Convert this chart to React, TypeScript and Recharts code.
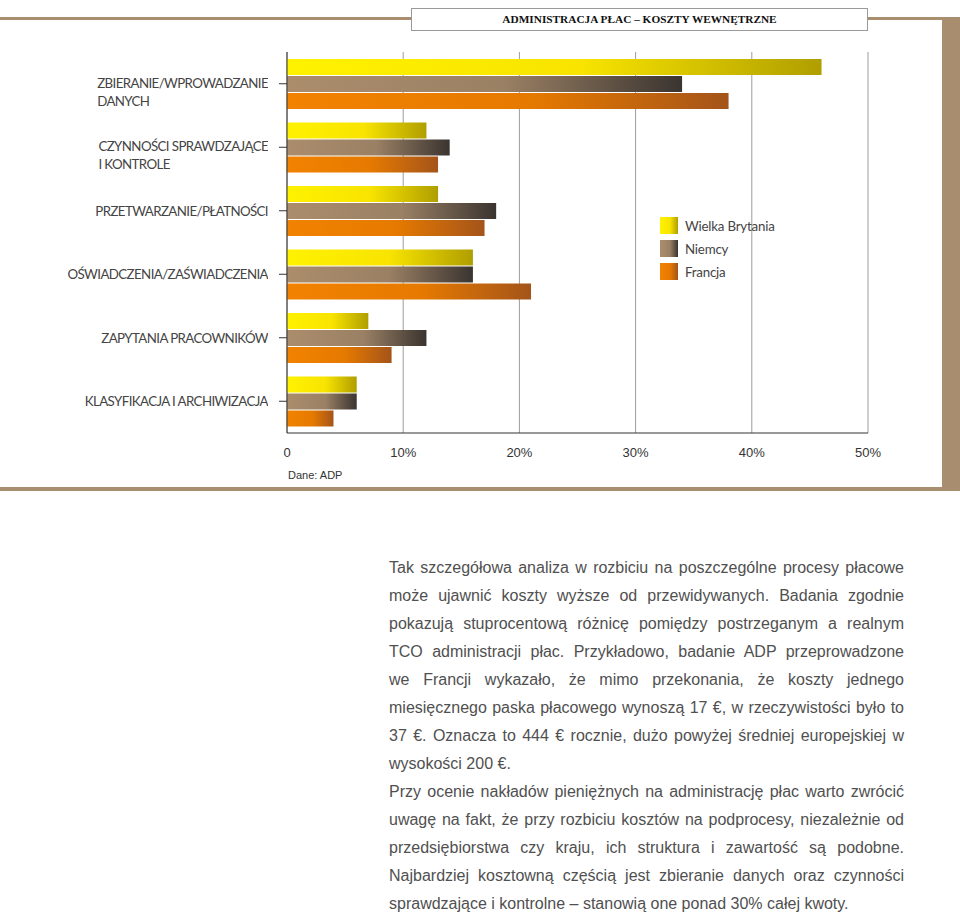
import { BarChart, Bar, XAxis, YAxis, CartesianGrid, Legend } from "recharts";

const categories = [
  "ZBIERANIE/WPROWADZANIE\nDANYCH",
  "CZYNNOŚCI SPRAWDZAJĄCE\nI KONTROLE",
  "PRZETWARZANIE/PŁATNOŚCI",
  "OŚWIADCZENIA/ZAŚWIADCZENIA",
  "ZAPYTANIA PRACOWNIKÓW",
  "KLASYFIKACJA I ARCHIWIZACJA",
];
const wielkaBrytania = [46, 12, 13, 16, 7, 6];
const niemcy = [34, 14, 18, 16, 12, 6];
const francja = [38, 13, 17, 21, 9, 4];
const xTicks = [0, 10, 20, 30, 40, 50];

const series = [
  { key: "uk", name: "Wielka Brytania", stops: ["#fff200", "#f8e400", "#b09e00"] },
  { key: "de", name: "Niemcy", stops: ["#ab8d6c", "#9a8064", "#3a3430"] },
  { key: "fr", name: "Francja", stops: ["#f28200", "#e67a00", "#a4541a"] },
];

const paragraphLines: { text: string; last?: boolean }[] = [
  { text: "Tak szczegółowa analiza w rozbiciu na poszczególne procesy płacowe" },
  { text: "może ujawnić koszty wyższe od przewidywanych. Badania zgodnie" },
  { text: "pokazują stuprocentową różnicę pomiędzy postrzeganym a realnym" },
  { text: "TCO administracji płac. Przykładowo, badanie ADP przeprowadzone" },
  { text: "we Francji wykazało, że mimo przekonania, że koszty jednego" },
  { text: "miesięcznego paska płacowego wynoszą 17 €, w rzeczywistości było to" },
  { text: "37 €. Oznacza to 444 € rocznie, dużo powyżej średniej europejskiej w" },
  { text: "wysokości 200 €.", last: true },
  { text: "Przy ocenie nakładów pieniężnych na administrację płac warto zwrócić" },
  { text: "uwagę na fakt, że przy rozbiciu kosztów na podprocesy, niezależnie od" },
  { text: "przedsiębiorstwa czy kraju, ich struktura i zawartość są podobne." },
  { text: "Najbardziej kosztowną częścią jest zbieranie danych oraz czynności" },
  { text: "sprawdzające i kontrolne – stanowią one ponad 30% całej kwoty.", last: true },
];

const data = categories.map((name, i) => ({
  name,
  uk: wielkaBrytania[i],
  de: niemcy[i],
  fr: francja[i],
}));

const BROWN = "#a88e6f";

function CategoryTick({ x, y, payload }: any) {
  const lines = String(payload.value).split("\n");
  const h = lines.length * 18;
  return (
    <foreignObject x={x - 268} y={lines.length > 1 ? y - 10 : y - 9} width={268} height={h}>
      <div style={{ display: "flex", justifyContent: "flex-end" }}>
        <div
          style={{
            textAlign: "left",
            fontFamily: "Lato",
            fontSize: 13.3,
            letterSpacing: -0.6,
            lineHeight: "18px",
            color: "#444",
            whiteSpace: "nowrap",
          }}
        >
          {lines.map((l) => (
            <div key={l}>{l}</div>
          ))}
        </div>
      </div>
    </foreignObject>
  );
}

function LegendBox() {
  return (
    <div>
      {series.map((s) => (
        <div key={s.key} style={{ display: "flex", alignItems: "center", height: 23 }}>
          <div
            style={{
              width: 18,
              height: 17,
              background: `linear-gradient(to right, ${s.stops[0]}, ${s.stops[1]} 55%, ${s.stops[2]})`,
              marginRight: 7,
            }}
          />
          <span style={{ fontFamily: "Lato", fontSize: 13.3, letterSpacing: -0.2, color: "#444" }}>{s.name}</span>
        </div>
      ))}
    </div>
  );
}

export default function App() {
  return (
    <div
      style={{
        position: "absolute",
        left: 0,
        top: 0,
        width: 960,
        height: 914,
        background: "#fff",
        overflow: "hidden",
      }}
    >
      <div style={{ position: "absolute", left: 0, top: 17, width: 944, height: 3, background: BROWN }} />
      <div style={{ position: "absolute", left: 942, top: 17, width: 18, height: 474, background: BROWN }} />
      <div style={{ position: "absolute", left: 0, top: 487, width: 944, height: 4, background: BROWN }} />
      <div
        style={{
          position: "absolute",
          left: 411,
          top: 8,
          width: 455,
          height: 21,
          border: "1px solid #9a9a9a",
          background: "#fff",
          textAlign: "center",
          lineHeight: "21px",
          fontFamily: "Liberation Serif",
          fontWeight: "bold",
          fontSize: 11.3,
          color: "#111",
        }}
      >
        ADMINISTRACJA PŁAC – KOSZTY WEWNĘTRZNE
      </div>

      <div style={{ position: "absolute", left: 0, top: 0 }}>
        <BarChart
          width={942}
          height={470}
          data={data}
          layout="vertical"
          margin={{ top: 52, right: 74, left: 0, bottom: 0 }}
          barSize={16}
          barGap={1}
        >
          <defs>
            {series.map((s) => (
              <linearGradient key={s.key} id={`g-${s.key}`} x1="0" y1="0" x2="1" y2="0">
                <stop offset="0%" stopColor={s.stops[0]} />
                <stop offset="55%" stopColor={s.stops[1]} />
                <stop offset="100%" stopColor={s.stops[2]} />
              </linearGradient>
            ))}
          </defs>
          <CartesianGrid horizontal={false} stroke="#9c9c9c" />
          <XAxis
            type="number"
            domain={[0, 50]}
            ticks={xTicks}
            height={37}
            tickLine={false}
            tickMargin={9}
            axisLine={{ stroke: "#333" }}
            tickFormatter={(v: number) => (v === 0 ? "0" : `${v}%`)}
            tick={{ fontSize: 13, fontFamily: "Liberation Sans", fill: "#333" }}
          />
          <YAxis
            type="category"
            dataKey="name"
            width={287}
            tickSize={8}
            tickMargin={11}
            axisLine={{ stroke: "#333" }}
            tickLine={{ stroke: "#333" }}
            tick={<CategoryTick />}
            interval={0}
          />
          <Legend
            layout="vertical"
            align="center"
            verticalAlign="middle"
            wrapperStyle={{ left: 660, top: 214, width: 200 }}
            content={() => <LegendBox />}
          />
          {series.map((s) => (
            <Bar key={s.key} dataKey={s.key} name={s.name} fill={`url(#g-${s.key})`} isAnimationActive={false} />
          ))}
        </BarChart>
      </div>

      <div
        style={{
          position: "absolute",
          left: 288,
          top: 469,
          fontFamily: "Liberation Sans",
          fontSize: 11,
          color: "#333",
        }}
      >
        Dane: ADP
      </div>

      <div
        style={{
          position: "absolute",
          left: 389,
          top: 554,
          width: 515,
          fontFamily: "Liberation Sans",
          fontSize: 16,
          lineHeight: "28px",
          color: "#505050",
        }}
      >
        {paragraphLines.map((l, i) => (
          <div
            key={i}
            style={{
              textAlign: l.last ? "left" : "justify",
              textAlignLast: l.last ? "left" : "justify",
              whiteSpace: "nowrap",
            }}
          >
            {l.text}
          </div>
        ))}
      </div>
    </div>
  );
}
